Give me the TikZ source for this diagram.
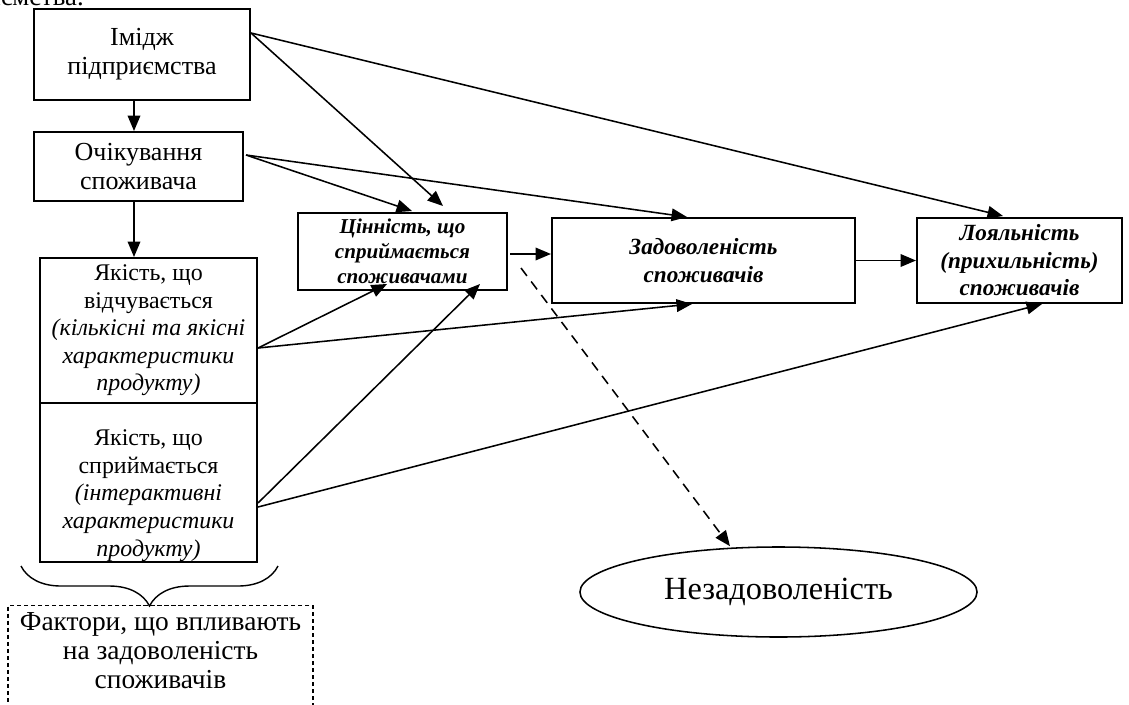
\documentclass[tikz,border=0pt]{standalone}
\usepackage{fontspec}
\setmainfont{Liberation Serif}
\usetikzlibrary{arrows.meta, calc, shapes.geometric, decorations.pathreplacing}
\usetikzlibrary{positioning}

\begin{document}
\begin{tikzpicture}[x=0.025cm, y=-0.025cm,
        box/.style={rectangle, draw, line width=1.4pt, align=center, inner sep=1pt},
        plain/.style={font=\fontsize{18.5}{20.6}\selectfont},
        quality/.style={font=\fontsize{17}{19.6}\selectfont},
        result/.style={font=\bfseries\itshape\fontsize{16.5}{19.5}\selectfont},
        arr/.style={line width=1.1pt, -{Triangle[length=11pt, width=9pt]}}]

        \useasboundingbox (0,0) rectangle (1129,704);

        % end of the text above
        \node[anchor=base east, inner sep=0pt, font=\fontsize{19}{21}\selectfont] (tail) at (84,5) {підприємства.};

        % factors
        \node[box, plain, minimum width=5.4cm, minimum height=2.275cm] (image) at (142,54.5) {Імідж\\підприємства};
        \node[box, plain, minimum width=5.225cm, minimum height=1.725cm] (expect) at (138.5,166.5) {Очікування\\споживача};
        \node[box, quality, minimum width=5.425cm, minimum height=3.625cm] (q1) at (148.5,330.5)
            {Якість, що\\відчувається\\\textit{(кількісні та якісні}\\\textit{характеристики}\\\textit{продукту)}};
        \node[box, quality, minimum width=5.425cm, minimum height=3.975cm] (q2) at (148.5,482.5)
            {\raisebox{-13.5pt}[0pt][0pt]{\begin{tabular}{@{}c@{}}Якість, що\\сприймається\\\textit{(інтерактивні}\\\textit{характеристики}\\\textit{продукту)}\end{tabular}}};

        % results
        \node[box, font=\bfseries\itshape\fontsize{15}{17.8}\selectfont, minimum width=5.225cm, minimum height=1.925cm] (value) at (402.5,251.5)
            {Цінність, що\\сприймається\\споживачами};
        \node[box, result, minimum width=7.575cm, minimum height=2.125cm] (satisf) at (703.5,260.5) {Задоволеність\\споживачів};
        \node[box, result, minimum width=5.125cm, minimum height=2.125cm] (loyal) at (1019.5,260.5) {Лояльність\\(прихильність)\\споживачів};
        \node[ellipse, draw, line width=1.1pt, minimum width=9.925cm, minimum height=2.25cm, font=\fontsize{23}{26}\selectfont] (unsat) at (778.5,592) {Незадоволеність};

        % brace and caption
        \coordinate (brace left) at ($(q2.south west)+(-18,3)$);
        \coordinate (brace right) at ($(q2.south east)+(20,3)$);
        \draw[line width=1pt, decorate, decoration={brace, mirror, amplitude=1cm}] (brace left) -- (brace right);
        \node[draw, dash pattern=on 3pt off 2pt, line width=0.8pt, minimum width=7.625cm, minimum height=3cm, anchor=north] (factbox) at (160.5,605) {};
        \node[align=center, inner sep=0pt, font=\fontsize{19.5}{20.6}\selectfont] (factors) at (160.5,651) {Фактори, що впливають\\на задоволеність\\споживачів};

        % links between the columns
        \draw[arr] ($(image.south)+(-8,0)$) -- ($(expect.north)+(-4.5,0)$);
        \draw[arr] ($(expect.south)+(-4.5,0)$) -- ($(q1.north)+(-14.5,0)$);

        \draw[arr] ($(image.east)+(0,-21.5)$) -- ($(value.north)+(40.5,-6)$);
        \draw[arr] ($(image.east)+(0,-21.5)$) -- ($(loyal.north)+(-16.5,-1)$);
        \draw[arr] ($(expect.east)+(2,-11.5)$) -- ($(value.north)+(9.5,-1)$);
        \draw[arr] ($(expect.east)+(2,-11.5)$) -- ($(satisf.north)+(-16.5,0)$);

        \draw[arr] ($(q1.east)+(0,17.5)$) -- ($(value.south)+(-15.5,-7)$);
        \draw[arr] ($(q1.east)+(0,17.5)$) -- ($(satisf.south)+(-11.5,0)$);
        \draw[arr] ($(q2.east)+(0,20.5)$) -- ($(value.south)+(77.5,-7)$);
        \draw[arr] ($(q2.east)+(0,24.5)$) -- ($(loyal.south)+(22.5,0)$);

        \draw[arr] ($(value.east)+(2,2.5)$) -- ($(satisf.west)+(0,-6.5)$);
        \draw[arr] (satisf.east) -- (loyal.west);
        \draw[arr, dash pattern=on 7pt off 5pt] ($(value.east)+(13,16.5)$) -- ($(unsat.north)+(-48.5,0)$);

    \end{tikzpicture}
\end{document}
